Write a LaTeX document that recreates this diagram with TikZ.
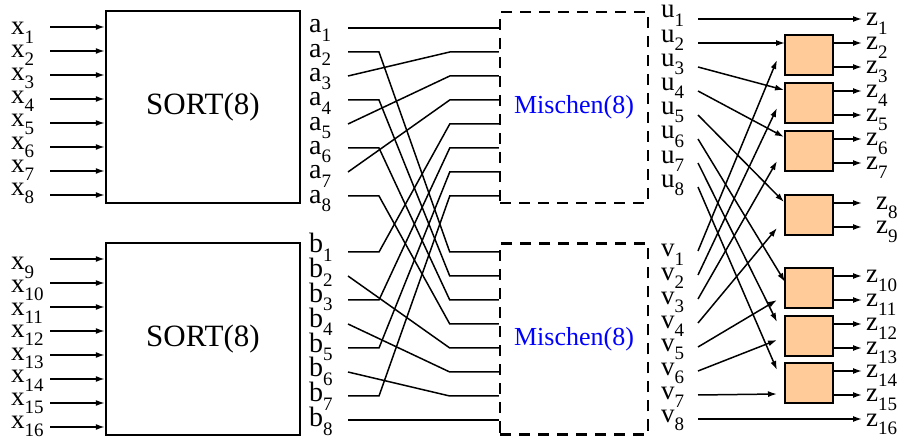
\documentclass[tikz,border=0pt]{standalone}
\usepackage{fontspec}
\setmainfont{Liberation Serif}
\usetikzlibrary{arrows.meta}

\definecolor{cmpfill}{RGB}{255,204,153}
% letter with a lowered index
\newcommand{\lab}[2]{#1\raisebox{-0.3em}{\fontsize{19}{19}\selectfont #2}}

\begin{document}
\begin{tikzpicture}[x=1pt,y=-1pt,
	lbl/.style={inner sep=0pt,anchor=base west,text height=0.45em,text depth=0.3em,
		font=\fontsize{27}{27}\selectfont},
	biglbl/.style={lbl,font=\fontsize{28}{28}\selectfont},
	wire/.style={line width=1.5pt},
	arr/.style={wire,-{Latex[length=9pt,width=6pt]}},
	sortbox/.style={draw,line width=2.5pt,minimum width=194pt,minimum height=192pt,
		font=\fontsize{31}{31}\selectfont},
	mixbox/.style={draw,line width=2.5pt,dash pattern=on 11pt off 8pt,
		minimum width=148pt,minimum height=191pt,text=blue,font=\fontsize{26}{26}\selectfont},
	cmpbox/.style={draw,line width=1.5pt,fill=cmpfill,minimum width=48pt,minimum height=40pt}]

	\useasboundingbox (0,0) rectangle (913,443);

	% the two sorters
	\node[sortbox] (sortA) at (203,107) {SORT(8)};
	\node[sortbox] (sortB) at (203,339) {SORT(8)};

	% inputs x1..x16
	\foreach \i in {1,...,8}{
		\coordinate (xin\i) at (50,{27+24*(\i-1)});
		\node[lbl] (x\i) at (11,{35+22.9*(\i-1)}) {\lab{x}{\i}};
		\draw[arr] (xin\i) -- (sortA.west |- xin\i);
	}
	\foreach \i [evaluate=\i as \j using int(\i+8)] in {1,...,8}{
		\coordinate (xin\j) at (50,{259+24*(\i-1)});
		\node[lbl] (x\j) at (11,{270+22.6*(\i-1)}) {\lab{x}{\j}};
		\draw[arr] (xin\j) -- (sortB.west |- xin\j);
	}

	% sorted outputs a and b
	\foreach \i in {1,...,8}{
		\coordinate (ao\i) at (348,{28+24*(\i-1)});
		\node[biglbl] (a\i) at (309,{33+24.3*(\i-1)}) {\lab{a}{\i}};
		\coordinate (bo\i) at (348,{252+24*(\i-1)});
		\node[biglbl] (b\i) at (309,{253+24.8*(\i-1)}) {\lab{b}{\i}};
	}

	% the two mergers
	\node[mixbox] (mixU) at (574,107.5) {Mischen(8)};
	\node[mixbox] (mixV) at (574,339) {Mischen(8)};
	\foreach \i in {1,...,8}{
		\coordinate (mu\i) at (mixU.west |- ao\i);
		\coordinate (mv\i) at (mixV.west |- bo\i);
	}

	% odd inputs to the upper merger, even ones to the lower
	\draw[wire] (ao1) -- (mu1);
	\draw[wire] (bo8) -- (mv8);
	\foreach \k [evaluate=\k as \o using int(2*\k+1), evaluate=\k as \t using int(\k+1)] in {1,2,3}
		\draw[wire] (ao\o) -- ([xshift=-49pt]mu\t) -- (mu\t);
	\foreach \k [evaluate=\k as \e using int(2*\k)] in {1,...,4}
		\draw[wire] (ao\e) -- ++(31,0) -- ([xshift=-49pt]mv\k) -- (mv\k);
	\foreach \k [evaluate=\k as \o using int(2*\k-1), evaluate=\k as \t using int(\k+4)] in {1,...,4}
		\draw[wire] (bo\o) -- ++(31,0) -- ([xshift=-49pt]mu\t) -- (mu\t);
	\foreach \k [evaluate=\k as \e using int(2*\k), evaluate=\k as \t using int(\k+4)] in {1,2,3}
		\draw[wire] (bo\e) -- ([xshift=-49pt]mv\t) -- (mv\t);

	% merger outputs u and v
	\foreach \i in {1,...,8}{
		\coordinate (uo\i) at (698,{19+24*(\i-1)});
		\node[lbl] (u\i) at (661,{18+24.2*(\i-1)}) {\lab{u}{\i}};
		\coordinate (vo\i) at (698,{251+24*(\i-1)});
		\node[lbl] (v\i) at (661,{257+23.7*(\i-1)}) {\lab{v}{\i}};
	}

	% last column of comparators
	\foreach \i/\y in {1/55,2/103,3/151,4/215,5/288,6/336,7/383}
		\node[cmpbox] (c\i) at (809,\y) {};

	% outputs z1..z16
	\foreach \i/\y/\x in {1/19/866,2/43/866,3/67/866,4/91/866,5/115/866,6/139/866,7/163/866,
		8/203/876,9/227/876,10/276/866,11/300/866,12/324/866,13/348/866,14/371/866,
		15/395/866,16/419/866}{
		\coordinate (zt\i) at (862,\y);
		\node[lbl] (z\i) at (\x,\y+7) {\lab{z}{\i}};
	}
	\draw[arr] (uo1) -- (zt1);
	\draw[arr] (vo8) -- (zt16);
	\foreach \i [evaluate=\i as \p using int(2*\i), evaluate=\i as \q using int(2*\i+1)] in {1,...,7}{
		\draw[arr] (c\i.east |- zt\p) -- (zt\p);
		\draw[arr] (c\i.east |- zt\q) -- (zt\q);
	}

	% u(i+1) and v(i) meet in comparator i
	\foreach \i/\x/\y in {1/785/43,2/784/90,3/784/137,4/784/202,5/785/282,6/777/322,7/777/370}{
		\coordinate (cu\i) at (\x,\y);
	}
	\foreach \i/\y in {1/60,2/108,3/161,4/228,5/300,6/340,7/394}{
		\coordinate (cv\i) at (777,\y);
	}
	\foreach \i [evaluate=\i as \n using int(\i+1)] in {1,...,7}{
		\draw[arr] (uo\n) -- (cu\i);
		\draw[arr] (vo\i) -- (cv\i);
	}
\end{tikzpicture}
\end{document}
